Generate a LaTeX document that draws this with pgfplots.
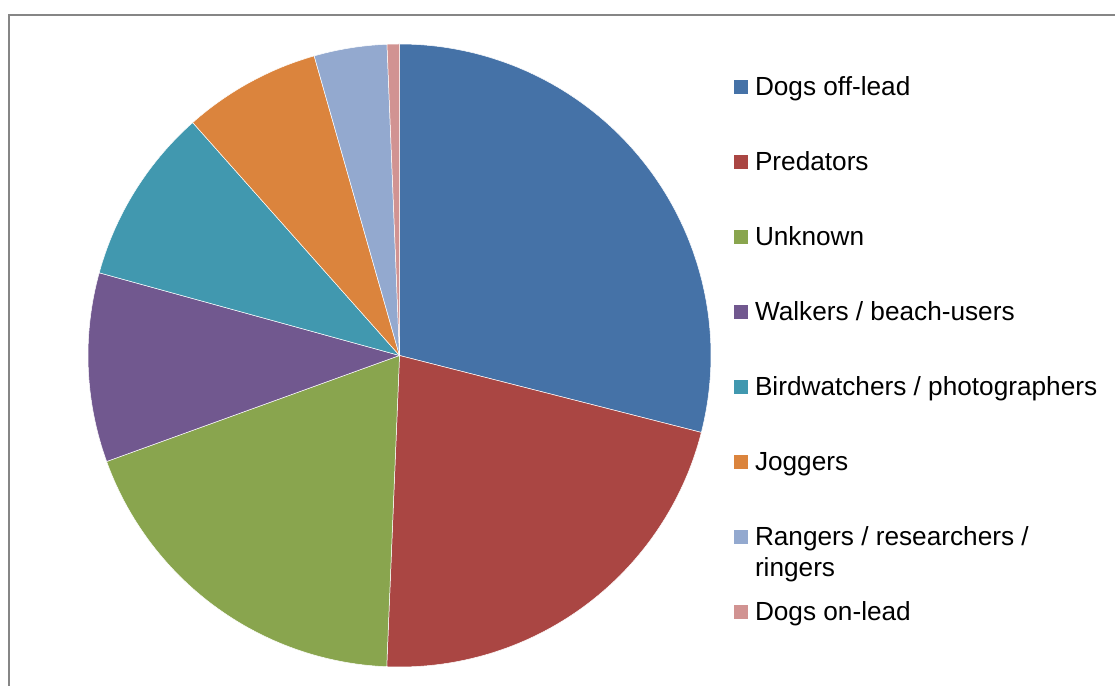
\documentclass[border=0pt]{standalone}
\usepackage{pgfplots}
\pgfplotsset{compat=1.18}
\usepackage{fontspec}
\setmainfont{Liberation Sans}
\definecolor{c1}{HTML}{4572A7}
\definecolor{c2}{HTML}{AA4643}
\definecolor{c3}{HTML}{89A54E}
\definecolor{c4}{HTML}{71588F}
\definecolor{c5}{HTML}{4198AF}
\definecolor{c6}{HTML}{DB843D}
\definecolor{c7}{HTML}{93A9CF}
\definecolor{c8}{HTML}{D19392}
\definecolor{framegray}{RGB}{134,134,134}
\begin{document}
\begin{tikzpicture}
\path[use as bounding box] (0,0) rectangle (557.5bp,343bp);
\begin{axis}[at={(0,0)}, anchor=south west, scale only axis,
  width=557.5bp, height=343bp,
  xmin=-399.5, xmax=715.5, ymin=-330.5, ymax=355.5,
  hide axis, clip=true, data cs=polar,
  legend cell align=left,
  legend style={at={(axis cs:334.5,279.5)}, anchor=north west, draw=none, fill=none,
    inner sep=0pt, outer sep=0pt, row sep=24.5bp, column sep=3.5bp,
    font=\fontsize{13.1bp}{15.5bp}\selectfont,
    cells={anchor=base west},
    nodes={inner sep=0pt, text height=10bp, text depth=3bp}},
  legend image code/.code={\fill[#1,draw=none] (0bp,1.15bp) rectangle (7bp,8.15bp);},
]
\draw[framegray, line width=1bp] (axis cs:730,340.5) -- (axis cs:-390.5,340.5) -- (axis cs:-390.5,-345);
% slices: angle limits (degrees), clockwise from 12 o'clock
% shares: 28.97, 21.68, 18.82, 9.81, 9.17, 7.14, 3.78, 0.64 %
\addplot[domain=-14.3:90, samples=90, fill=c1, draw=white, line width=0.25bp] {311.5} -- (axis cs:0,0) -- cycle;
\addplot[domain=-92.35:-14.3, samples=70, fill=c2, draw=white, line width=0.25bp] {311.5} -- (axis cs:0,0) -- cycle;
\addplot[domain=-160.1:-92.35, samples=60, fill=c3, draw=white, line width=0.25bp] {311.5} -- (axis cs:0,0) -- cycle;
\addplot[domain=164.6:199.9, samples=35, fill=c4, draw=white, line width=0.25bp] {311.5} -- (axis cs:0,0) -- cycle;
\addplot[domain=131.6:164.6, samples=35, fill=c5, draw=white, line width=0.25bp] {311.5} -- (axis cs:0,0) -- cycle;
\addplot[domain=105.9:131.6, samples=30, fill=c6, draw=white, line width=0.25bp] {311.5} -- (axis cs:0,0) -- cycle;
\addplot[domain=92.3:105.9, samples=15, fill=c7, draw=white, line width=0.25bp] {311.5} -- (axis cs:0,0) -- cycle;
\addplot[domain=90:92.3, samples=5, fill=c8, draw=white, line width=0.25bp] {311.5} -- (axis cs:0,0) -- cycle;
\legend{Dogs off-lead, Predators, Unknown, Walkers / beach-users, Birdwatchers / photographers, Joggers,
  {\smash{\begin{tabular}[t]{@{}l@{}}Rangers / researchers /\\ringers\end{tabular}}}, Dogs on-lead}
\end{axis}
\end{tikzpicture}
\end{document}
